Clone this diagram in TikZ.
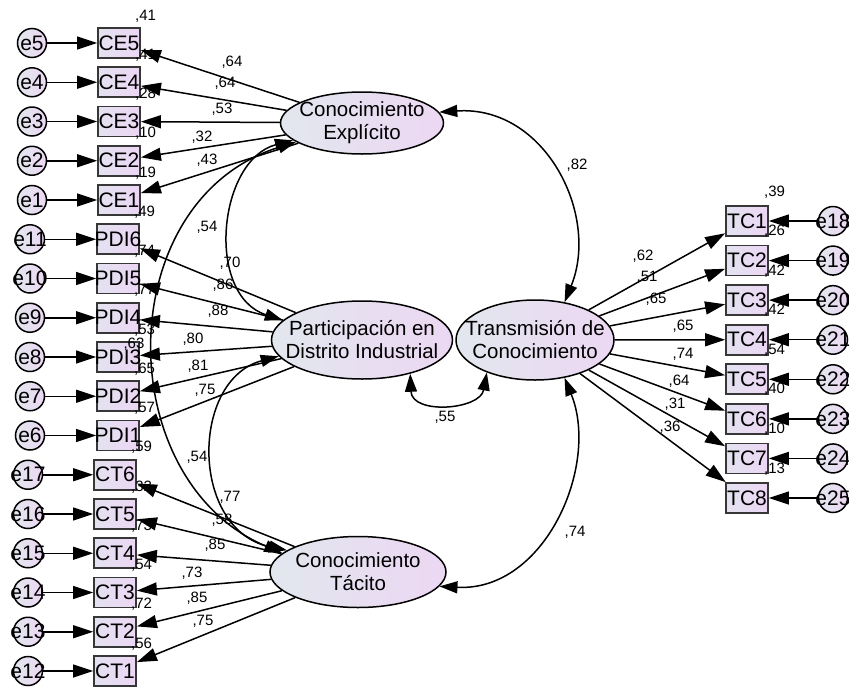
\documentclass[tikz,border=0pt]{standalone}
\usepackage{fontspec}
\setmainfont{Liberation Sans}
\usetikzlibrary{arrows.meta,positioning,shapes.geometric,calc}
\definecolor{latblue}{RGB}{226,231,238}
\definecolor{latlila}{RGB}{236,215,243}
\definecolor{obsblue}{RGB}{228,226,240}
\definecolor{obslila}{RGB}{236,214,244}
\definecolor{boxgray}{RGB}{55,55,55}

\begin{document}
\begin{tikzpicture}[
  x=1pt,y=1pt,
  font=\fontsize{21}{23}\selectfont,
  latent/.style={ellipse,draw,line width=1.5pt,left color=latblue,right color=latlila,inner sep=0pt,
    label={[align=center,font=\fontsize{20.5}{23}\selectfont]center:#1}},
  obs/.style={rectangle,draw=boxgray,line width=1.8pt,minimum width=42pt,minimum height=30pt,inner sep=0pt,
    left color=obsblue,right color=obslila},
  err/.style={circle,draw,line width=1.5pt,minimum size=29pt,inner sep=0pt,left color=latblue,right color=latlila,
    label={center:#1}},
  num/.style={font=\fontsize{15}{17}\selectfont,inner sep=0pt},
  arr/.style={-{Triangle[length=20pt,width=13pt]},line width=1.5pt},
  cov/.style={{Triangle[length=18pt,width=12pt]}-{Triangle[length=18pt,width=12pt]},line width=1.5pt}
]
\useasboundingbox (0,0) rectangle (849,-686);

% latent variables
\node[latent={Conocimiento\\Explícito},minimum width=163pt,minimum height=62pt] (ce) at (362,-123) {};
\node[latent={Participación en\\Distrito Industrial},minimum width=181pt,minimum height=78pt] (pdi) at (362,-340) {};
\node[latent={Conocimiento\\Tácito},minimum width=176pt,minimum height=71pt] (ct) at (358,-572) {};
\node[latent={Transmisión de\\Conocimiento},minimum width=158pt,minimum height=80pt] (tc) at (535,-340) {};

% left indicators with their errors
\foreach \v/\e/\bx/\ex/\rq [count=\k from 0] in {CE5/e5/119/32/41, CE4/e4/119/32/41, CE3/e3/119/32/28,
    CE2/e2/119/32/10, CE1/e1/119/32/19, PDI6/e11/118/30/49, PDI5/e10/118/30/74, PDI4/e9/118/30/77,
    PDI3/e8/118/30/53, PDI2/e7/118/30/65, PDI1/e6/118/30/57, CT6/e17/115/28/59, CT5/e16/115/28/32,
    CT4/e15/115/28/73, CT3/e14/115/28/54, CT2/e13/115/28/72, CT1/e12/115/28/56} {
  \node[obs] (\v) at (\bx,{-43-39.25*\k}) {\makebox[0pt]{\v}};
  \node[err=\e] (\e) at (\ex,{-43-39.25*\k}) {};
  \draw[arr] (\e) -- (\v);
  \node[num,anchor=base west] at ([xshift=-6pt,yshift=7pt]\v.north east) {,\rq};
}

% right indicators with their errors
\foreach \v/\e/\rq [count=\k from 0] in {TC1/e18/39, TC2/e19/26, TC3/e20/42, TC4/e21/42,
    TC5/e22/54, TC6/e23/40, TC7/e24/10, TC8/e25/13} {
  \node[obs] (\v) at (747,{-221-39.57*\k}) {\makebox[0pt]{\v}};
  \node[err=\e] (\e) at (833,{-221-39.57*\k}) {};
  \draw[arr] (\e) -- (\v);
  \draw[arr] (tc) -- (\v);
  \node[num,anchor=base west] at ([xshift=-5pt,yshift=9pt]\v.north east) {,\rq};
}

% loadings
\foreach \v in {CE5,CE4,CE3,CE2,CE1} \draw[arr] (ce) -- (\v);
\foreach \v in {PDI6,PDI5,PDI4,PDI3,PDI2,PDI1} \draw[arr] (pdi) -- (\v);
\foreach \v in {CT6,CT5,CT4,CT3,CT2,CT1} \draw[arr] (ct) -- (\v);

% covariances
\draw[cov] (ce.8) .. controls (545,-105) and (600,-215) .. (tc.52);
\draw[cov] (ct.-10) .. controls (545,-592) and (600,-465) .. (tc.-52);
\draw[cov] (pdi.-35) .. controls (412,-415) and (480,-410) .. (tc.-146);
\draw[cov] (ce.194) .. controls (218,-160) and (205,-295) .. (pdi.166);
\draw[cov] (ce.196) .. controls (110,-200) and (110,-480) .. (ct.166);
\draw[cov] (pdi.191) .. controls (190,-380) and (190,-530) .. (ct.163);

% estimates
\foreach \x/\y/\w in {232/62/64, 225/83/64, 222/109/53, 202/137/32, 207/160/43,
    230/263/70, 223/285/86, 218/311/88, 193/339/80, 198/366/81, 205/390/75,
    230/497/77, 222/520/58, 215/545/85, 192/573/73, 197/598/85, 203/621/75,
    643/256/62, 647/277/51, 656/299/65, 683/326/65, 683/354/74, 679/381/64, 675/404/31, 670/427/36,
    577/165/82, 445/417/55, 575/532/74, 207/227/54, 197/457/54, 134/344/63}
  \node[num] at (\x,-\y) {,\w};
\end{tikzpicture}
\end{document}
